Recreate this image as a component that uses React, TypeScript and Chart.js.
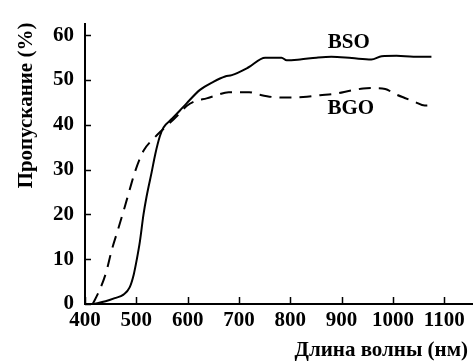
import React, { useEffect, useRef } from "react";
import { Chart, registerables } from "chart.js";

Chart.register(...registerables);

// ---- data ----
const bsoWavelength = [416, 440, 458, 475, 487, 495, 501, 507, 514, 520, 530, 537, 546, 553, 570, 585, 598, 624, 650, 673, 686, 718, 751, 783, 793, 819, 851, 880, 920, 958, 978, 1007, 1040, 1075];
const bsoTransmission = [0, 0.6, 1.3, 2.1, 3.7, 6.6, 10, 14, 20, 24, 29.5, 33.5, 37.5, 39.4, 41.4, 43.2, 44.8, 47.8, 49.6, 50.8, 51.1, 52.8, 55, 55, 54.4, 54.6, 55, 55.2, 54.9, 54.6, 55.3, 55.4, 55.2, 55.2];

const bgoWavelength = [415, 428, 441, 452, 464, 477, 487, 497, 514, 536, 549, 566, 582, 598, 617, 637, 656, 680, 720, 741, 767, 800, 825, 858, 890, 916, 942, 962, 985, 1004, 1023, 1043, 1062, 1079];
const bgoTransmission = [0, 3, 7, 12, 16.5, 21.5, 25.5, 29.4, 34.2, 37.2, 38.7, 40.5, 42.3, 44.2, 45.4, 45.9, 46.6, 47.3, 47.3, 46.7, 46.2, 46.1, 46.2, 46.6, 47, 47.6, 48.1, 48.2, 48, 46.9, 46, 45.1, 44.3, 44.4];

const xTickValues = [400, 500, 600, 700, 800, 900, 1000, 1100];
const yTickValues = [0, 10, 20, 30, 40, 50, 60];
const seriesNames = ["BSO", "BGO"];
const xTitle = "Длина волны (нм)";
const yTitle = "Пропускание (%)";
// series name label anchors, in data units [wavelength, transmission]
const bsoLabelAt = [914, 58.3];
const bgoLabelAt = [918, 43.7];

const FAMILY = "'Liberation Serif', 'Times New Roman', serif";
const FONT_SIZE = 21;
const FONT = `bold ${FONT_SIZE}px ${FAMILY}`;

const decorPlugin = {
  id: "decor",
  afterDraw(chart: any) {
    const ctx = chart.ctx;
    const xs = chart.scales.x;
    const ys = chart.scales.y;
    const area = chart.chartArea;
    ctx.save();
    // inward ticks
    ctx.strokeStyle = "#000";
    ctx.lineWidth = 1.5;
    ctx.beginPath();
    xs.ticks.forEach((t: any) => {
      const px = Math.round(xs.getPixelForValue(t.value)) + 0.5;
      ctx.moveTo(px, area.bottom);
      ctx.lineTo(px, area.bottom - 7);
    });
    ys.ticks.forEach((t: any) => {
      const py = Math.round(ys.getPixelForValue(t.value)) + 0.5;
      ctx.moveTo(area.left, py);
      ctx.lineTo(area.left + 6, py);
    });
    ctx.stroke();

    ctx.fillStyle = "#000";
    ctx.font = FONT;
    // series labels
    ctx.textAlign = "center";
    ctx.textBaseline = "middle";
    ctx.fillText(seriesNames[0], xs.getPixelForValue(bsoLabelAt[0]), ys.getPixelForValue(bsoLabelAt[1]));
    ctx.fillText(seriesNames[1], xs.getPixelForValue(bgoLabelAt[0]), ys.getPixelForValue(bgoLabelAt[1]));

    // axis titles
    ctx.textAlign = "right";
    ctx.textBaseline = "middle";
    ctx.fillText(xTitle, chart.width - 5, chart.height - 10);

    ctx.translate(27, area.top - 1);
    ctx.rotate(-Math.PI / 2);
    ctx.textAlign = "right";
    ctx.fillText(yTitle, 0, 0);
    ctx.restore();
  },
};

export default function App() {
  const canvasRef = useRef<HTMLCanvasElement | null>(null);

  useEffect(() => {
    const canvas = canvasRef.current;
    if (!canvas) return;
    const chart = new Chart(canvas, {
      type: "line",
      data: {
        datasets: [
          {
            label: seriesNames[0],
            data: bsoWavelength.map((x, i) => ({ x, y: bsoTransmission[i] })),
            borderColor: "#000",
            borderWidth: 2,
            pointRadius: 0,
            fill: false,
            cubicInterpolationMode: "monotone",
          },
          {
            label: seriesNames[1],
            data: bgoWavelength.map((x, i) => ({ x, y: bgoTransmission[i] })),
            borderColor: "#000",
            borderWidth: 2,
            borderDash: [12, 8],
            pointRadius: 0,
            fill: false,
            cubicInterpolationMode: "monotone",
          },
        ],
      },
      options: {
        responsive: false,
        animation: false,
        devicePixelRatio: 1,
        layout: { padding: { top: 12, right: 0, left: 0, bottom: 0 } },
        plugins: { legend: { display: false }, tooltip: { enabled: false } },
        scales: {
          x: {
            type: "linear",
            min: 400,
            max: 1156,
            afterBuildTicks: (s: any) => {
              s.ticks = xTickValues.map((v) => ({ value: v }));
            },
            afterFit: (s: any) => {
              s.height = 57;
            },
            grid: { display: false, drawTicks: false },
            border: { display: true, color: "#000", width: 2 },
            ticks: {
              color: "#000",
              padding: 4,
              maxRotation: 0,
              autoSkip: false,
              callback: (v: any) => String(v),
              font: { family: FAMILY, size: FONT_SIZE, weight: "bold" },
            },
          },
          y: {
            type: "linear",
            min: 0,
            max: 62.6,
            afterBuildTicks: (s: any) => {
              s.ticks = yTickValues.map((v) => ({ value: v }));
            },
            afterFit: (s: any) => {
              s.width = 85;
            },
            grid: { display: false, drawTicks: false },
            border: { display: true, color: "#000", width: 2 },
            ticks: {
              color: "#000",
              padding: 11,
              autoSkip: false,
              callback: (v: any) => String(v),
              font: { family: FAMILY, size: FONT_SIZE, weight: "bold" },
            },
          },
        },
      },
      plugins: [decorPlugin],
    } as any);
    return () => chart.destroy();
  }, []);

  return (
    <div style={{ position: "fixed", left: 0, top: 0, width: 473, height: 361, background: "#fff" }}>
      <canvas ref={canvasRef} width={473} height={361} style={{ width: 473, height: 361, display: "block" }} />
    </div>
  );
}
